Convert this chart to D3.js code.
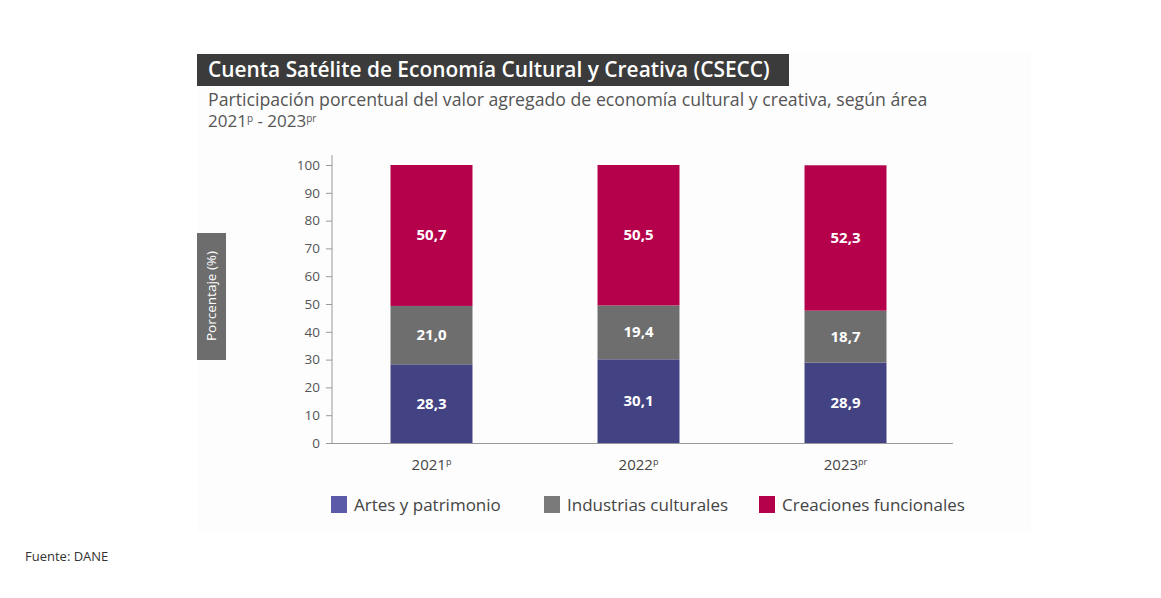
<!DOCTYPE html>
<html><head><meta charset="utf-8">
<script src="https://cdn.jsdelivr.net/npm/d3@7"></script>
<style>body{margin:0;background:#fff;font-family:"Open Sans",sans-serif}</style>
</head><body><svg id="chart"></svg>
<script>
var years = ['2021', '2022', '2023'];
var yearSup = ['p', 'p', 'pr'];
var series = ['Artes y patrimonio', 'Industrias culturales', 'Creaciones funcionales'];
var artes = [28.3, 30.1, 28.9];
var industrias = [21.0, 19.4, 18.7];
var creaciones = [50.7, 50.5, 52.3];
var colors = ['#434383', '#6e6e6e', '#b5004b'];
var legendColors = ['#5a5aa8', '#7a7a7a', '#b5004b'];

var svg = d3.select('#chart').attr('width', 1161).attr('height', 598);
svg.append('rect').attr('x', 197).attr('y', 50).attr('width', 834).attr('height', 482).attr('fill', '#fdfdfd');

svg.append('rect').attr('x', 197).attr('y', 54).attr('width', 592).attr('height', 32).attr('fill', '#3b3b3b');
svg.append('text').attr('x', 208).attr('y', 77).attr('fill', '#fff').attr('font-size', 20.9).attr('font-weight', 600)
    .text('Cuenta Satélite de Economía Cultural y Creativa (CSECC)');
svg.append('text').attr('x', 208).attr('y', 106).attr('fill', '#555').attr('font-size', 17.7)
    .text('Participación porcentual del valor agregado de economía cultural y creativa, según área');
var t2 = svg.append('text').attr('x', 208).attr('y', 127).attr('fill', '#555').attr('font-size', 17);
t2.append('tspan').text('2021');
t2.append('tspan').attr('font-size', 10).attr('dy', -5).text('p');
t2.append('tspan').attr('dy', 5).text(' - 2023');
t2.append('tspan').attr('font-size', 10).attr('dy', -5).text('pr');

var x = d3.scaleBand().domain(years).range([328, 949]).paddingInner(0.604).paddingOuter(0.302);
var y = d3.scaleLinear().domain([0, 100]).range([443, 165]);

var stacked = d3.stack().keys([0, 1, 2])(years.map((d, i) => [artes[i], industrias[i], creaciones[i]]));

var yAxis = svg.append('g').attr('transform', 'translate(332,0)')
    .call(d3.axisLeft(y).tickValues(d3.range(0, 101, 10)).tickSize(6).tickPadding(6));
yAxis.select('.domain').attr('d', 'M0,155V443').attr('stroke', '#999');
yAxis.selectAll('line').attr('stroke', '#999');
yAxis.selectAll('text').attr('font-size', 13.5).attr('fill', '#555').attr('font-family', 'Open Sans');

svg.append('line').attr('x1', 332).attr('x2', 953).attr('y1', 443.5).attr('y2', 443.5).attr('stroke', '#999');

stacked.forEach(function(s, k) {
    svg.append('g').selectAll('rect').data(s).enter().append('rect')
        .attr('x', (d, i) => x(years[i]))
        .attr('width', x.bandwidth())
        .attr('y', d => y(d[1]))
        .attr('height', d => y(d[0]) - y(d[1]))
        .attr('fill', colors[k]);
    svg.append('g').selectAll('text').data(s).enter().append('text')
        .attr('x', (d, i) => x(years[i]) + x.bandwidth() / 2)
        .attr('y', d => y((d[0] + d[1]) / 2) + 5)
        .attr('text-anchor', 'middle').attr('fill', '#fff').attr('font-size', 15).attr('font-weight', 700)
        .text(d => (d[1] - d[0]).toFixed(1).replace('.', ','));
});

years.forEach(function(yr, i) {
    var t = svg.append('text').attr('x', x(yr) + x.bandwidth() / 2).attr('y', 470)
        .attr('text-anchor', 'middle').attr('fill', '#444').attr('font-size', 15);
    t.append('tspan').text(yr);
    t.append('tspan').attr('font-size', 9).attr('dy', -5).text(yearSup[i]);
});

svg.append('rect').attr('x', 197).attr('y', 233).attr('width', 29).attr('height', 127).attr('fill', '#6d6d6d');
svg.append('text').attr('transform', 'translate(216,296) rotate(-90)').attr('text-anchor', 'middle')
    .attr('fill', '#fff').attr('font-size', 13.5).text('Porcentaje (%)');

var legX = [331, 544, 759];
series.forEach(function(s, i) {
    svg.append('rect').attr('x', legX[i]).attr('y', 496).attr('width', 16).attr('height', 17).attr('fill', legendColors[i]);
    svg.append('text').attr('x', legX[i] + 23).attr('y', 511).attr('fill', '#444').attr('font-size', 17).text(s);
});

svg.append('text').attr('x', 25).attr('y', 561).attr('fill', '#333').attr('font-size', 13).text('Fuente: DANE');
</script></body></html>
